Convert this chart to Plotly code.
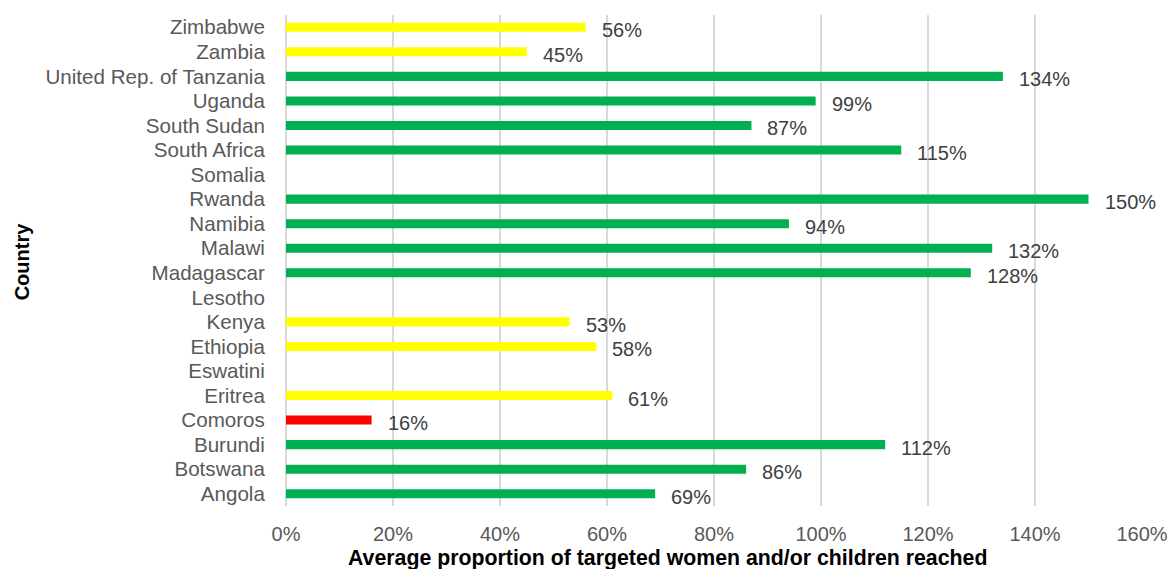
import plotly.graph_objects as go

countries = ["Angola", "Botswana", "Burundi", "Comoros", "Eritrea", "Eswatini", "Ethiopia",
             "Kenya", "Lesotho", "Madagascar", "Malawi", "Namibia", "Rwanda", "Somalia",
             "South Africa", "South Sudan", "Uganda", "United Rep. of Tanzania", "Zambia", "Zimbabwe"]
values = [69, 86, 112, 16, 61, None, 58, 53, None, 128, 132, 94, 150, None, 115, 87, 99, 134, 45, 56]

x_ticks = [0, 20, 40, 60, 80, 100, 120, 140, 160]
x_ticklabels = ["0%", "20%", "40%", "60%", "80%", "100%", "120%", "140%", "160%"]

x_title = "Average proportion of targeted women and/or children reached"
y_title = "Country"


def bar_color(v):
    if v is None:
        return "rgba(0,0,0,0)"
    if v < 40:
        return "#FF0000"
    if v < 65:
        return "#FFFF00"
    return "#00B050"


FONT = "Arial, Liberation Sans, sans-serif"
FS = 20

fig = go.Figure()
fig.add_trace(go.Bar(
    y=countries,
    x=values,
    orientation="h",
    marker=dict(color=[bar_color(v) for v in values], line=dict(width=0)),
    width=0.37,
    hoverinfo="x+y",
))

annotations = []
for c, v in zip(countries, values):
    if v is None:
        continue
    annotations.append(dict(
        x=v, y=c, xref="x", yref="y",
        text=f"{v}%", showarrow=False,
        xanchor="left", yanchor="middle",
        xshift=14, yshift=-3,
        font=dict(family=FONT, size=FS, color="#404040"),
    ))

# axis titles
annotations.append(dict(
    x=0.446, y=-0.106, xref="paper", yref="paper",
    text=f"<b>{x_title}</b>", showarrow=False,
    xanchor="center", yanchor="middle",
    font=dict(family=FONT, size=21.3, color="#000000"),
))
annotations.append(dict(
    x=-0.308, y=0.499, xref="paper", yref="paper",
    text=f"<b>{y_title}</b>", showarrow=False, textangle=-90,
    xanchor="center", yanchor="middle",
    font=dict(family=FONT, size=FS, color="#000000"),
))

fig.update_layout(
    width=1171, height=569,
    margin=dict(l=286, r=29, t=15, b=63, autoexpand=False),
    plot_bgcolor="white", paper_bgcolor="white",
    showlegend=False,
    font=dict(family=FONT, size=FS, color="#595959"),
    annotations=annotations,
)

fig.update_xaxes(
    range=[0, 160],
    tickmode="array", tickvals=x_ticks, ticktext=x_ticklabels,
    showgrid=True, gridcolor="#D9D9D9", gridwidth=1.5,
    zeroline=True, zerolinecolor="#D9D9D9", zerolinewidth=1.5,
    showline=False,
    ticks="outside", ticklen=10, tickcolor="rgba(0,0,0,0)",
    tickfont=dict(family=FONT, size=FS, color="#595959"),
    ticklabeloverflow="allow",
    automargin=False,
    fixedrange=True,
)

fig.update_yaxes(
    type="category",
    categoryorder="array", categoryarray=countries,
    tickmode="array", tickvals=countries, ticktext=countries,
    range=[-0.5, len(countries) - 0.5],
    showgrid=False, showline=False, zeroline=False,
    ticks="outside", ticklen=16, tickcolor="rgba(0,0,0,0)",
    tickfont=dict(family=FONT, size=20.6, color="#595959"),
    ticklabeloverflow="allow",
    automargin=False,
    fixedrange=True,
)

fig.write_html("out.html")
